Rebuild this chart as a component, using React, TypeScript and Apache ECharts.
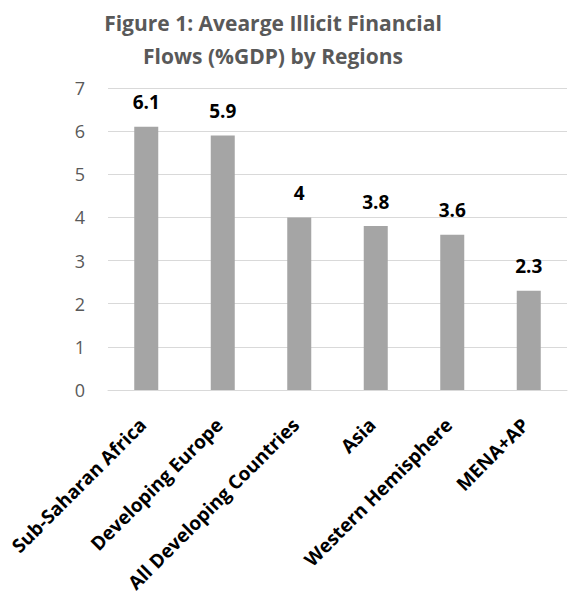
import React, { useEffect, useRef } from "react";
import * as echarts from "echarts";

const regions = [
  "Sub-Saharan Africa",
  "Developing Europe",
  "All Developing Countries",
  "Asia",
  "Western Hemisphere",
  "MENA+AP",
];
const iffShare = [6.1, 5.9, 4, 3.8, 3.6, 2.3];
const yTicks = [0, 1, 2, 3, 4, 5, 6, 7];

const FONT = "'Open Sans', 'Noto Sans', sans-serif";

export default function App() {
  const ref = useRef<HTMLDivElement>(null);

  useEffect(() => {
    if (!ref.current) return;
    const chart = echarts.init(ref.current, null, { renderer: "svg" });
    chart.setOption({
      animation: false,
      backgroundColor: "#ffffff",
      title: {
        text: "Figure 1: Avearge Illicit Financial\nFlows (%GDP) by Regions",
        left: 268,
        top: 1,
        textAlign: "center",
        textStyle: {
          fontFamily: FONT,
          fontWeight: "bold",
          fontSize: 21,
          lineHeight: 33,
          color: "#595959",
        },
      },
      grid: { left: 108, right: 1, top: 88, bottom: 212 },
      xAxis: {
        type: "category",
        data: regions,
        axisLine: { show: true, lineStyle: { color: "#d9d9d9", width: 1 } },
        axisTick: { show: false },
        axisLabel: {
          rotate: 45,
          interval: 0,
          margin: 28,
          padding: [0, 5, 0, 0],
          fontFamily: FONT,
          fontWeight: "bold",
          fontSize: 19,
          color: "#000000",
        },
      },
      yAxis: {
        type: "value",
        min: yTicks[0],
        max: yTicks[yTicks.length - 1],
        interval: 1,
        axisLine: { show: false },
        axisTick: { show: false },
        splitLine: { show: true, lineStyle: { color: "#d9d9d9", width: 1 } },
        axisLabel: {
          margin: 23,
          fontFamily: FONT,
          fontSize: 18,
          color: "#595959",
        },
      },
      series: [
        {
          type: "bar",
          data: iffShare,
          barWidth: 24,
          itemStyle: { color: "#a5a5a5" },
          label: {
            show: true,
            position: "top",
            distance: 15,
            fontFamily: FONT,
            fontWeight: "bold",
            fontSize: 19,
            color: "#000000",
          },
        },
      ],
    });
    return () => chart.dispose();
  }, []);

  return (
    <div
      ref={ref}
      style={{ position: "fixed", left: 0, top: 0, width: 568, height: 602 }}
    />
  );
}
